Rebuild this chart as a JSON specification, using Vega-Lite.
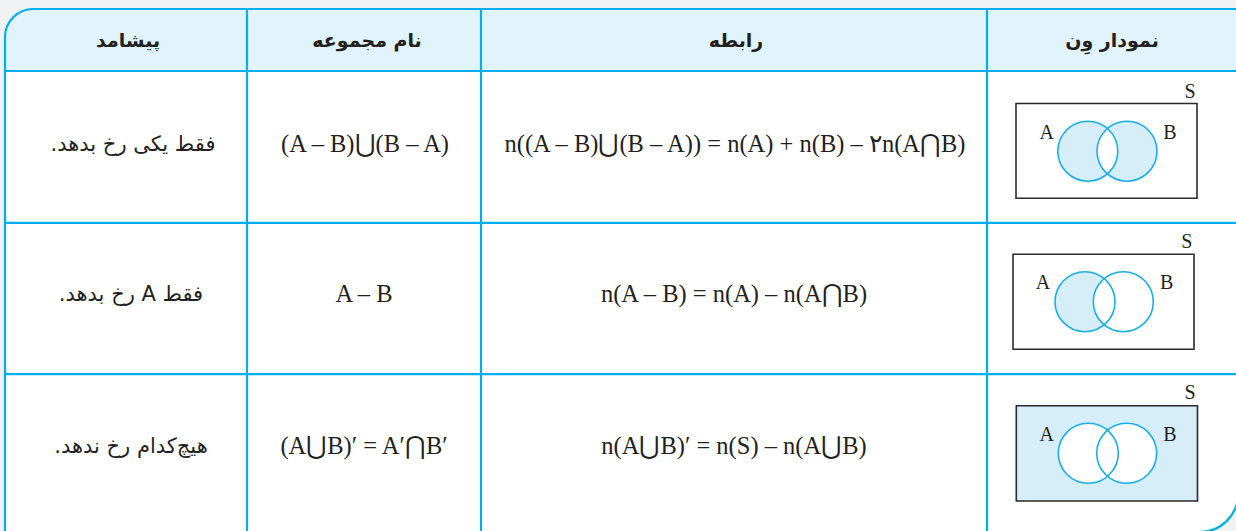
{
  "$schema": "https://vega.github.io/schema/vega-lite/v6.json",
  "width": 1236,
  "height": 531,
  "padding": 0,
  "autosize": {"type": "none"},
  "background": "#f1f2f4",
  "config": {"view": {"stroke": null}},
  "datasets": {
    "frame": [{"x": 5, "x2": 1238, "y": 9, "y2": 532}],
    "header": [{"x": 5, "x2": 1238, "y": 9, "y2": 71}],
    "hlines": [
      {"x": 5, "x2": 1238, "y": 71},
      {"x": 5, "x2": 1238, "y": 222.8},
      {"x": 5, "x2": 1238, "y": 374.2}
    ],
    "vlines": [
      {"x": 247, "y": 9, "y2": 532},
      {"x": 481, "y": 9, "y2": 532},
      {"x": 987, "y": 9, "y2": 532}
    ],
    "texts": [
      {"kind": "header", "x": 128, "y": 41, "label": "پیشامد"},
      {"kind": "header", "x": 367, "y": 41, "label": "نام مجموعه"},
      {"kind": "header", "x": 736, "y": 41, "label": "رابطه"},
      {"kind": "header", "x": 1112, "y": 41, "label": "نمودار وِن"},
      {"kind": "persian", "x": 133, "y": 145, "label": "‫فقط یکی رخ بدهد.‬"},
      {"kind": "persian", "x": 131, "y": 295, "label": "‫فقط A رخ بدهد.‬"},
      {"kind": "persian", "x": 131, "y": 447, "label": "‫هیچ‌کدام رخ ندهد.‬"},
      {"kind": "math", "x": 365, "y": 145, "label": "(A – B)⋃(B – A)"},
      {"kind": "math", "x": 364, "y": 295, "label": "A – B"},
      {"kind": "math", "x": 364, "y": 447, "label": "(A⋃B)′ = A′⋂B′"},
      {"kind": "math", "x": 735, "y": 145, "label": "n((A – B)⋃(B – A)) = n(A) + n(B) – ۲n(A⋂B)"},
      {"kind": "math", "x": 734, "y": 295, "label": "n(A – B) = n(A) – n(A⋂B)"},
      {"kind": "math", "x": 734, "y": 447, "label": "n(A⋃B)′ = n(S) – n(A⋃B)"}
    ],
    "boxes": [
      {"row": 1, "x": 1016, "x2": 1197, "y": 103.5, "y2": 198.3, "shaded": false},
      {"row": 2, "x": 1013, "x2": 1194, "y": 254.3, "y2": 349.3, "shaded": false},
      {"row": 3, "x": 1016.3, "x2": 1197.5, "y": 405.8, "y2": 501, "shaded": true}
    ],
    "circles": [
      {"row": 1, "set": "A", "x": 1087.8, "y": 151.2, "shaded": true},
      {"row": 1, "set": "B", "x": 1127, "y": 151.2, "shaded": true},
      {"row": 2, "set": "A", "x": 1085, "y": 301.7, "shaded": true},
      {"row": 2, "set": "B", "x": 1123.3, "y": 301.7, "shaded": false},
      {"row": 3, "set": "A", "x": 1088.3, "y": 453.3, "shaded": false},
      {"row": 3, "set": "B", "x": 1126.7, "y": 453.3, "shaded": false}
    ],
    "lens": [{"row": 1, "x": 1107.4, "y": 151.2}],
    "vlabels": [
      {"row": 1, "x": 1046.7, "y": 133.3, "label": "A"},
      {"row": 1, "x": 1170, "y": 133.3, "label": "B"},
      {"row": 1, "x": 1190, "y": 91.7, "label": "S"},
      {"row": 2, "x": 1043, "y": 283, "label": "A"},
      {"row": 2, "x": 1166.7, "y": 283, "label": "B"},
      {"row": 2, "x": 1186.7, "y": 241.7, "label": "S"},
      {"row": 3, "x": 1046.7, "y": 435, "label": "A"},
      {"row": 3, "x": 1170, "y": 435, "label": "B"},
      {"row": 3, "x": 1190, "y": 393, "label": "S"}
    ]
  },
  "encoding": {
    "x": {"field": "x", "type": "quantitative", "scale": {"domain": [0, 1236], "nice": false, "zero": false}, "axis": null},
    "y": {"field": "y", "type": "quantitative", "scale": {"domain": [0, 531], "reverse": true, "nice": false, "zero": false}, "axis": null}
  },
  "layer": [
    {
      "data": {"name": "frame"},
      "mark": {"type": "rect", "fill": "#ffffff", "strokeWidth": 0, "cornerRadiusTopLeft": 28, "cornerRadiusBottomRight": 38},
      "encoding": {"x2": {"field": "x2"}, "y2": {"field": "y2"}}
    },
    {
      "data": {"name": "header"},
      "mark": {"type": "rect", "fill": "#e1f3fb", "strokeWidth": 0, "cornerRadiusTopLeft": 28},
      "encoding": {"x2": {"field": "x2"}, "y2": {"field": "y2"}}
    },
    {
      "data": {"name": "hlines"},
      "mark": {"type": "rule", "stroke": "#00aeef", "strokeWidth": 2.2},
      "encoding": {"x2": {"field": "x2"}}
    },
    {
      "data": {"name": "vlines"},
      "mark": {"type": "rule", "stroke": "#00aeef", "strokeWidth": 2.2},
      "encoding": {"y2": {"field": "y2"}}
    },
    {
      "data": {"name": "frame"},
      "mark": {"type": "rect", "fill": null, "fillOpacity": 0, "stroke": "#00aeef", "strokeWidth": 2.2, "cornerRadiusTopLeft": 28, "cornerRadiusBottomRight": 38},
      "encoding": {"x2": {"field": "x2"}, "y2": {"field": "y2"}}
    },
    {
      "data": {"name": "boxes"},
      "mark": {"type": "rect", "stroke": "#2b2a2a", "strokeWidth": 1.6},
      "encoding": {
        "x2": {"field": "x2"},
        "y2": {"field": "y2"},
        "fill": {"condition": {"test": "datum.shaded", "value": "#d5eefa"}, "value": "#ffffff"}
      }
    },
    {
      "data": {"name": "circles"},
      "mark": {"type": "point", "shape": "circle", "filled": true, "size": 3600, "strokeWidth": 0, "opacity": 1},
      "encoding": {
        "fill": {"condition": {"test": "datum.shaded", "value": "#d5eefa"}, "value": "#ffffff"}
      }
    },
    {
      "data": {"name": "lens"},
      "mark": {"type": "point", "shape": "M0,-0.757A1,1,0,0,1,0,0.757A1,1,0,0,1,0,-0.757Z", "filled": true, "fill": "#ffffff", "size": 3600, "strokeWidth": 0, "opacity": 1}
    },
    {
      "data": {"name": "circles"},
      "mark": {"type": "point", "shape": "circle", "filled": false, "stroke": "#1aaee8", "strokeWidth": 1.6, "size": 3600, "opacity": 1}
    },
    {
      "data": {"name": "vlabels"},
      "mark": {"type": "text", "font": "Liberation Serif", "fontSize": 20, "fill": "#231f20", "align": "center", "baseline": "middle"},
      "encoding": {"text": {"field": "label"}}
    },
    {
      "data": {"name": "texts"},
      "transform": [{"filter": "datum.kind === 'header'"}],
      "mark": {"type": "text", "font": "DejaVu Sans", "fontWeight": "bold", "fontSize": 19, "fill": "#231f20", "align": "center", "baseline": "middle"},
      "encoding": {"text": {"field": "label"}}
    },
    {
      "data": {"name": "texts"},
      "transform": [{"filter": "datum.kind === 'persian'"}],
      "mark": {"type": "text", "font": "DejaVu Sans", "fontSize": 21, "fill": "#231f20", "align": "center", "baseline": "middle"},
      "encoding": {"text": {"field": "label"}}
    },
    {
      "data": {"name": "texts"},
      "transform": [{"filter": "datum.kind === 'math'"}],
      "mark": {"type": "text", "font": "Liberation Serif", "fontSize": 24.5, "fill": "#231f20", "align": "center", "baseline": "middle"},
      "encoding": {"text": {"field": "label"}}
    }
  ]
}
